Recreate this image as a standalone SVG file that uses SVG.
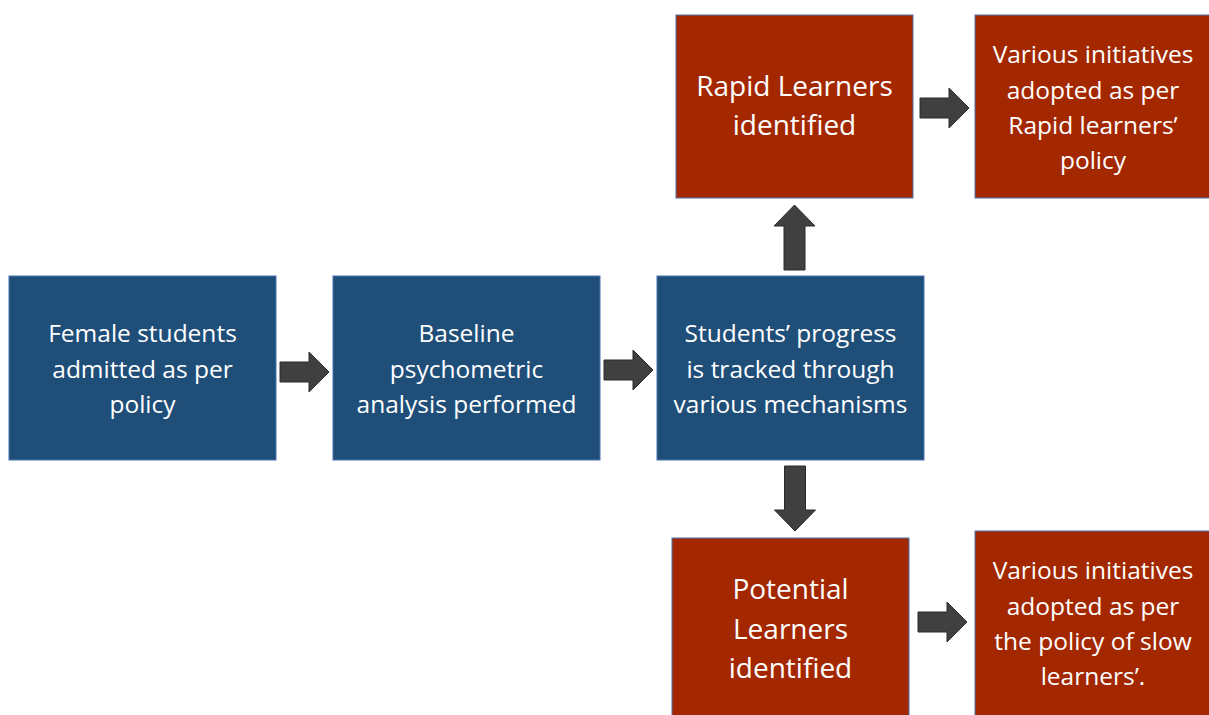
<svg xmlns="http://www.w3.org/2000/svg" width="1209" height="715" viewBox="0 0 1209 715">
  <defs>
    <style>
      .blue { fill: #1f4e79; stroke: #4a72b0; stroke-width: 1; }
      .red { fill: #a32800; stroke: #4a72b0; stroke-width: 1; }
      .t { font-family: "Open Sans", "Liberation Sans", sans-serif; font-size: 24.5px; fill: #ffffff; text-anchor: middle; }
      .tl { font-family: "Open Sans", "Liberation Sans", sans-serif; font-size: 28px; fill: #ffffff; text-anchor: middle; }
      .arrow { fill: #404040; stroke: #2a2a2a; stroke-width: 1; }
    </style>
    <!-- short block arrow pointing right, origin at the tail centre -->
    <path id="blockArrow" d="M0,-10 H29 V-20 L49,0 L29,20 V10 H0 Z"/>
    <!-- longer block arrow for the vertical branches -->
    <path id="longArrow" d="M0,-10.5 H44 V-20.5 L65,0 L44,20.5 V10.5 H0 Z"/>
  </defs>
  <rect width="1209" height="715" fill="#ffffff"/>

  <g id="connectors">
    <use href="#blockArrow" class="arrow" x="280" y="372"/>
    <use href="#blockArrow" class="arrow" x="604" y="370"/>
    <use href="#longArrow" class="arrow" transform="translate(794.5,270) rotate(-90)"/>
    <use href="#longArrow" class="arrow" transform="translate(795,466) rotate(90)"/>
    <use href="#blockArrow" class="arrow" x="920" y="108"/>
    <use href="#blockArrow" class="arrow" x="918" y="622"/>
  </g>

  <g id="admitted">
    <rect class="blue" x="9" y="276" width="267" height="184"/>
    <text class="t" x="142.5" y="342">Female students</text>
    <text class="t" x="142.5" y="378">admitted as per</text>
    <text class="t" x="142.5" y="413">policy</text>
  </g>

  <g id="baseline">
    <rect class="blue" x="333" y="276" width="267" height="184"/>
    <text class="t" x="466.5" y="342">Baseline</text>
    <text class="t" x="466.5" y="378">psychometric</text>
    <text class="t" x="466.5" y="413">analysis performed</text>
  </g>

  <g id="progress">
    <rect class="blue" x="657" y="276" width="267" height="184"/>
    <text class="t" x="790.5" y="342">Students’ progress</text>
    <text class="t" x="790.5" y="378">is tracked through</text>
    <text class="t" x="790.5" y="413">various mechanisms</text>
  </g>

  <g id="rapid">
    <rect class="red" x="676" y="15" width="237" height="183"/>
    <text class="tl" x="794.5" y="96">Rapid Learners</text>
    <text class="tl" x="794.5" y="135">identified</text>
  </g>

  <g id="rapid-initiatives">
    <rect class="red" x="975" y="15" width="240" height="183"/>
    <text class="t" x="1093" y="63">Various initiatives</text>
    <text class="t" x="1093" y="99">adopted as per</text>
    <text class="t" x="1093" y="134">Rapid learners’</text>
    <text class="t" x="1093" y="169">policy</text>
  </g>

  <g id="potential">
    <rect class="red" x="672" y="538" width="237" height="190"/>
    <text class="tl" x="790.5" y="599">Potential</text>
    <text class="tl" x="790.5" y="639">Learners</text>
    <text class="tl" x="790.5" y="678">identified</text>
  </g>

  <g id="slow-initiatives">
    <rect class="red" x="975" y="531" width="240" height="197"/>
    <text class="t" x="1093" y="579">Various initiatives</text>
    <text class="t" x="1093" y="615">adopted as per</text>
    <text class="t" x="1093" y="650">the policy of slow</text>
    <text class="t" x="1093" y="685">learners’.</text>
  </g>
</svg>
